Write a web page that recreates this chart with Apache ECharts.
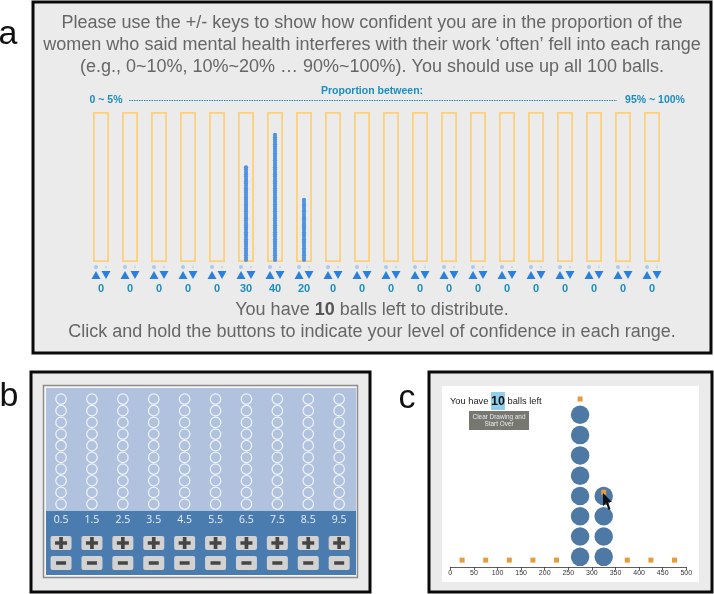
<!DOCTYPE html>
<html>
<head>
<meta charset="utf-8">
<style>
  html, body { margin: 0; padding: 0; background: #fff; }
  #main { width: 714px; height: 594px; }
</style>
<script src="https://cdn.jsdelivr.net/npm/echarts@6/dist/echarts.min.js"></script>
</head>
<body>
<div id="main"></div>
<script>
// panel a
var binNames = ['0~5','5~10','10~15','15~20','20~25','25~30','30~35','35~40','40~45','45~50','50~55','55~60','60~65','65~70','70~75','75~80','80~85','85~90','90~95','95~100'];
var binCounts = [0,0,0,0,0,30,40,20,0,0,0,0,0,0,0,0,0,0,0,0];
var binCapacity = [47,47,47,47,47,47,47,47,47,47,47,47,47,47,47,47,47,47,47,47];
var keyRows = ['arrow','sign'];

// panel b
var gridLabels = ['0.5','1.5','2.5','3.5','4.5','5.5','6.5','7.5','8.5','9.5'];
var gridRows = ['1','2','3','4','5','6','7','8','9','10'];
var buttonRows = ['minus','plus'];

// panel c
var ballBins = [275,325];
var ballHeights = [8,4];
var handleX = [25,75,125,175,225,275,325,375,425,475];
var handleY = [0.34,0.34,0.34,0.34,0.34,8.28,3.69,0.34,0.34,0.34];

var SANS = '"Liberation Sans", Arial, sans-serif';
var PLUS = 'path://M4.5 0H8.5V4.5H13V8.5H8.5V13H4.5V8.5H0V4.5H4.5Z';
var BUTTON = 'path://M2 0H19A2 2 0 0 1 21 2V12A2 2 0 0 1 19 14H2A2 2 0 0 1 0 12V2A2 2 0 0 1 2 0Z';

function frame(x, y, w, h) {
  return { type: 'rect', z: 0, shape: { x: x, y: y, width: w, height: h }, style: { fill: '#ebebeb', stroke: '#0a0a0a', lineWidth: 3 } };
}
function txt(x, y, text, size, color, align, extra) {
  var style = { x: x, y: y, text: text, fontSize: size, fontFamily: SANS, fill: color, align: align || 'center', verticalAlign: 'middle' };
  if (extra) for (var k in extra) style[k] = extra[k];
  return { type: 'text', z: 50, style: style };
}

var slots = [];
gridLabels.forEach(function (c) { gridRows.forEach(function (r) { slots.push([c, r]); }); });
var buttons = [];
gridLabels.forEach(function (c) { buttonRows.forEach(function (r) { buttons.push([c, r]); }); });
var balls = [];
ballBins.forEach(function (b, i) {
  for (var n = 0; n < ballHeights[i]; n++) balls.push([b, n + 0.5]);
});

var option = {
  animation: false,
  textStyle: { fontFamily: SANS },
  graphic: [
    frame(33, 2, 678, 351),
    frame(31, 372, 339, 220),
    frame(429, 372, 283, 220),
    // inner frames of b
    { type: 'rect', z: 1, shape: { x: 43.5, y: 385.5, width: 314, height: 192 }, style: { fill: '#f6f6f6', stroke: '#8c8c8c', lineWidth: 1.5 } },
    { type: 'rect', z: 1, shape: { x: 46, y: 388, width: 310, height: 123 }, style: { fill: '#b0c2de' } },
    { type: 'rect', z: 1, shape: { x: 46, y: 511, width: 310, height: 64 }, style: { fill: '#4a7cb0' } },
    // white sheet of c
    { type: 'rect', z: 1, shape: { x: 442, y: 386, width: 257, height: 196 }, style: { fill: '#ffffff' } },

    txt(8, 35, 'a', 34, '#111'),
    txt(9, 397, 'b', 34, '#111'),
    txt(407, 399, 'c', 34, '#111'),

    txt(372, 23, 'Please use the +/- keys to show how confident you are in the proportion of the', 18, '#666'),
    txt(372, 45, 'women who said mental health interferes with their work ‘often’ fell into each range', 18, '#666'),
    txt(372, 67, '(e.g., 0~10%, 10%~20% … 90%~100%). You should use up all 100 balls.', 18, '#666'),

    txt(372, 91, 'Proportion between:', 10.5, '#1c8dbf', 'center', { fontWeight: 'bold' }),
    txt(106, 100, '0 ~ 5%', 10.5, '#1c8dbf', 'center', { fontWeight: 'bold' }),
    txt(655, 100, '95% ~ 100%', 10.5, '#1c8dbf', 'center', { fontWeight: 'bold' }),
    { type: 'line', z: 50, shape: { x1: 129, y1: 100.5, x2: 617, y2: 100.5 }, style: { stroke: '#1c8dbf', lineWidth: 1.2, lineDash: [1.5, 1] } },

    txt(372, 310, '{n|You have }{b|10}{n| balls left to distribute.}', 18, '#666', 'center', {
      rich: { n: { fontSize: 18, fontFamily: SANS, fill: '#666' }, b: { fontSize: 18, fontFamily: SANS, fontWeight: 'bold', fill: '#555' } }
    }),
    txt(372, 332, 'Click and hold the buttons to indicate your level of confidence in each range.', 18, '#666'),

    // text and button of c
    txt(450, 401, '{n|You have }{b|10}{n| balls left}', 9.3, '#222', 'left', {
      rich: {
        n: { fontSize: 9.3, fontFamily: SANS, fill: '#222' },
        b: { fontSize: 12.5, fontFamily: SANS, fontWeight: 'bold', fill: '#111', backgroundColor: '#92cdec', padding: [3, 0, 2, 0] }
      }
    }),
    { type: 'rect', z: 40, shape: { x: 469, y: 411, width: 60, height: 19 }, style: { fill: '#777772' } },
    txt(499, 420.5, 'Clear Drawing and\nStart Over', 6.4, '#e8e8e8', 'center', { lineHeight: 7.5 }),

    // mouse pointer
    { type: 'polygon', z: 60, shape: { points: [[603, 493], [603, 506], [606, 503], [608.5, 510], [610.5, 509], [608, 502], [612, 502]] }, style: { fill: '#111' } }
  ],
  grid: [
    { left: 86.5, top: 112, width: 580, height: 150 },
    { left: 86.5, top: 263, width: 580, height: 16 },
    { left: 45.6, top: 393.2, width: 309, height: 116.7 },
    { left: 45.6, top: 533, width: 309, height: 40 },
    { left: 450.3, top: 386, width: 236, height: 181 }
  ],
  xAxis: [
    { gridIndex: 0, type: 'category', data: binNames, show: false },
    { gridIndex: 1, type: 'category', data: binNames, z: 10, axisLine: { show: false }, axisTick: { show: false },
      axisLabel: { interval: 0, margin: 4, fontSize: 11, fontWeight: 'bold', color: '#1c8dbf', fontFamily: SANS,
        formatter: function (v, i) { return binCounts[i]; } } },
    { gridIndex: 2, type: 'category', data: gridLabels, z: 10, axisLine: { show: false }, axisTick: { show: false },
      axisLabel: { interval: 0, margin: 5, fontSize: 10.5, color: '#e8eef6', fontFamily: '"Open Sans", sans-serif' } },
    { gridIndex: 3, type: 'category', data: gridLabels, show: false },
    { gridIndex: 4, type: 'value', min: 0, max: 500, interval: 50, z: 10, splitLine: { show: false },
      axisLine: { onZero: false, lineStyle: { color: '#333', width: 0.8 } },
      axisTick: { length: 3, lineStyle: { color: '#333', width: 0.8 } },
      axisLabel: { margin: 3, fontSize: 7, color: '#333', fontFamily: SANS } }
  ],
  yAxis: [
    { gridIndex: 0, type: 'value', min: 0, max: 47, show: false },
    { gridIndex: 1, type: 'category', data: keyRows, show: false },
    { gridIndex: 2, type: 'category', data: gridRows, show: false },
    { gridIndex: 3, type: 'category', data: buttonRows, show: false },
    { gridIndex: 4, type: 'value', min: 0, max: 8.92, show: false }
  ],
  series: [
    // bins of a
    { name: 'bins', type: 'bar', xAxisIndex: 0, yAxisIndex: 0, data: binCapacity, barWidth: 16, z: 3,
      itemStyle: { color: 'rgba(0,0,0,0)', borderColor: '#fdd07c', borderWidth: 1.8 } },
    { name: 'balls', type: 'pictorialBar', xAxisIndex: 0, yAxisIndex: 0, data: binCounts, z: 4,
      symbol: 'circle', symbolRepeat: true, symbolSize: [4.2, 4], symbolMargin: -0.83,
      itemStyle: { color: '#4f93e0' } },
    // +/- keys of a
    { name: 'plus', type: 'scatter', xAxisIndex: 1, yAxisIndex: 1, symbol: 'circle', symbolSize: 4, symbolOffset: [-5, 0],
      itemStyle: { color: '#a9c8ec', opacity: 1 }, data: binNames.map(function (b) { return [b, 'sign']; }) },
    { name: 'minus', type: 'scatter', xAxisIndex: 1, yAxisIndex: 1, symbol: 'circle', symbolSize: 2.5, symbolOffset: [5, 0],
      itemStyle: { color: '#c5d9ef', opacity: 1 }, data: binNames.map(function (b) { return [b, 'sign']; }) },
    { name: 'up', type: 'scatter', xAxisIndex: 1, yAxisIndex: 1, symbol: 'triangle', symbolSize: [9, 8], symbolOffset: [-5, 0],
      itemStyle: { color: '#2a80da', opacity: 1 }, data: binNames.map(function (b) { return [b, 'arrow']; }) },
    { name: 'down', type: 'scatter', xAxisIndex: 1, yAxisIndex: 1, symbol: 'triangle', symbolRotate: 180, symbolSize: [9, 8], symbolOffset: [5, 0],
      itemStyle: { color: '#2a80da', opacity: 1 }, data: binNames.map(function (b) { return [b, 'arrow']; }) },
    // panel b
    { name: 'slots', type: 'scatter', xAxisIndex: 2, yAxisIndex: 2, symbol: 'circle', symbolSize: 10.5, data: slots, z: 5,
      itemStyle: { color: 'rgba(0,0,0,0)', borderColor: '#f0f3f9', borderWidth: 1.2, opacity: 1 } },
    { name: 'buttons', type: 'scatter', xAxisIndex: 3, yAxisIndex: 3, symbol: BUTTON, symbolSize: [21, 14], data: buttons, z: 5,
      itemStyle: { color: '#d2d2d2', opacity: 1 } },
    { name: 'plusGlyph', type: 'scatter', xAxisIndex: 3, yAxisIndex: 3, symbol: PLUS, symbolSize: 12, z: 6,
      itemStyle: { color: '#454545', opacity: 1 }, data: gridLabels.map(function (c) { return [c, 'plus']; }) },
    { name: 'minusGlyph', type: 'scatter', xAxisIndex: 3, yAxisIndex: 3, symbol: 'rect', symbolSize: [10, 3.5], z: 6,
      itemStyle: { color: '#454545', opacity: 1 }, data: gridLabels.map(function (c) { return [c, 'minus']; }) },
    // panel c
    { name: 'placed', type: 'scatter', xAxisIndex: 4, yAxisIndex: 4, symbol: 'circle', symbolSize: 18.5, data: balls, z: 5,
      itemStyle: { color: '#4f79a5', opacity: 1 } },
    { name: 'handles', type: 'scatter', xAxisIndex: 4, yAxisIndex: 4, symbol: 'rect', symbolSize: 5, z: 6,
      itemStyle: { color: '#e89a3c', opacity: 1 }, data: handleX.map(function (x, i) { return [x, handleY[i]]; }) }
  ]
};

var chart = echarts.init(document.getElementById('main'), null, { renderer: 'canvas' });
chart.setOption(option);
</script>
</body>
</html>
